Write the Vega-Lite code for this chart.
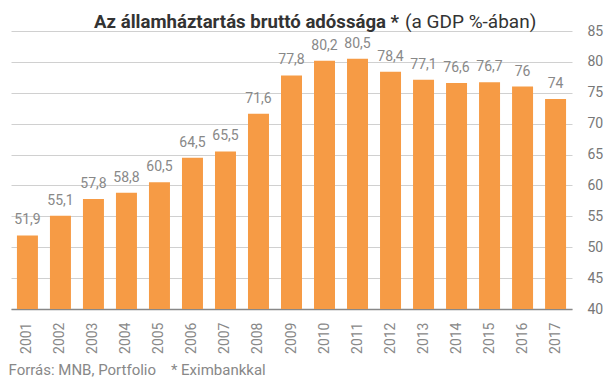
{
  "$schema": "https://vega.github.io/schema/vega-lite/v6.json",
  "width": 561,
  "height": 278,
  "autosize": {"type": "none"},
  "padding": {"left": 11, "top": 31, "right": 33, "bottom": 69},
  "background": "white",
  "config": {
    "font": "Roboto",
    "view": {"stroke": null},
    "locale": {"number": {"decimal": ",", "thousands": " ", "grouping": [3], "currency": ["", ""]}}
  },
  "title": {
    "text": "Az államháztartás bruttó adóssága *",
    "subtitle": "(a GDP %-ában)",
    "anchor": "start",
    "dx": 86,
    "offset": -8,
    "fontSize": 18.6,
    "fontWeight": "bold",
    "color": "#333333",
    "font": "Roboto",
    "subtitleFont": "Roboto",
    "subtitleFontSize": 19,
    "subtitleColor": "#333333",
    "subtitleFontWeight": "normal",
    "subtitlePadding": -18.6,
    "encode": {"subtitle": {"update": {"dx": {"value": 397}}}}
  },
  "data": {
    "values": [
      {"year": "2001", "value": 51.9},
      {"year": "2002", "value": 55.1},
      {"year": "2003", "value": 57.8},
      {"year": "2004", "value": 58.8},
      {"year": "2005", "value": 60.5},
      {"year": "2006", "value": 64.5},
      {"year": "2007", "value": 65.5},
      {"year": "2008", "value": 71.6},
      {"year": "2009", "value": 77.8},
      {"year": "2010", "value": 80.2},
      {"year": "2011", "value": 80.5},
      {"year": "2012", "value": 78.4},
      {"year": "2013", "value": 77.1},
      {"year": "2014", "value": 76.6},
      {"year": "2015", "value": 76.7},
      {"year": "2016", "value": 76},
      {"year": "2017", "value": 74}
    ]
  },
  "encoding": {
    "x": {
      "field": "year",
      "type": "ordinal",
      "scale": {"paddingInner": 0.364, "paddingOuter": 0.18},
      "axis": {
        "title": "Forrás: MNB, Portfolio\u00a0\u00a0\u00a0\u00a0* Eximbankkal",
        "titleAnchor": "start",
        "titleAlign": "left",
        "titleX": -3,
        "titleY": 53,
        "titleFont": "Roboto",
        "titleFontSize": 15,
        "titleFontWeight": "normal",
        "titleColor": "#888888",
        "labelAngle": -90,
        "labelAlign": "right",
        "labelBaseline": "middle",
        "labelPadding": 13,
        "labelFontSize": 14,
        "labelColor": "#888888",
        "ticks": false,
        "domainColor": "#888888",
        "domainWidth": 1.5,
        "grid": false
      }
    },
    "y": {
      "field": "value",
      "type": "quantitative",
      "scale": {"domain": [40, 85], "nice": false, "zero": false},
      "axis": {
        "orient": "right",
        "title": null,
        "values": [40, 45, 50, 55, 60, 65, 70, 75, 80, 85],
        "ticks": false,
        "domain": false,
        "labelPadding": 15,
        "labelFontSize": 14,
        "labelColor": "#777777",
        "gridColor": "#d0d0d0",
        "gridWidth": 1
      }
    }
  },
  "layer": [
    {"mark": {"type": "bar", "color": "#F69B45"}, "encoding": {"y2": {"datum": 40}}},
    {
      "mark": {"type": "text", "baseline": "bottom", "dy": -8, "fontSize": 14, "color": "#888888", "font": "Roboto"},
      "encoding": {"text": {"field": "value", "type": "quantitative", "format": "~g"}}
    }
  ]
}
